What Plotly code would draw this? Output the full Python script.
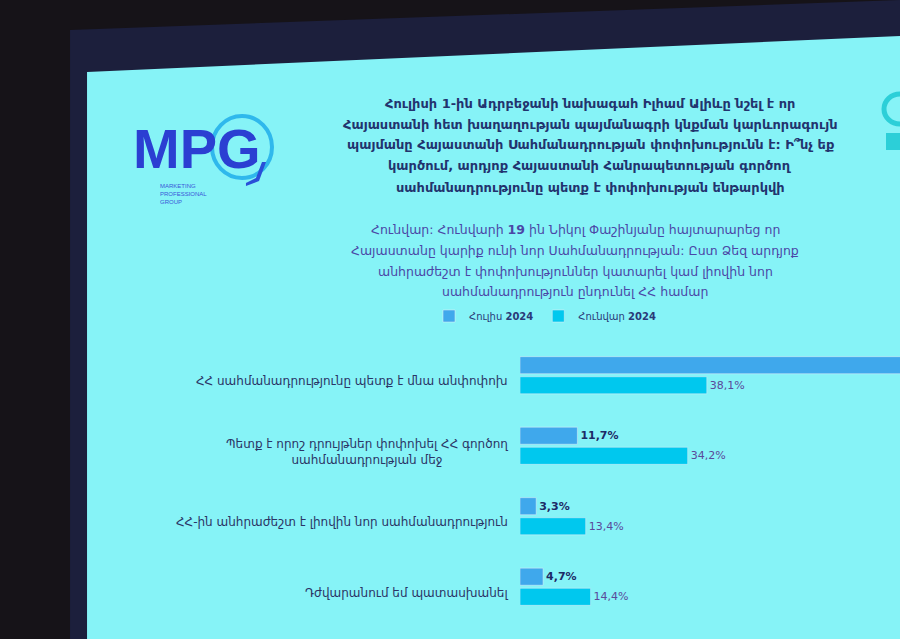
import plotly.graph_objects as go

W, H = 900, 639

categories = [
    "ՀՀ սահմանադրությունը պետք է մնա անփոփոխ",
    "Պետք է որոշ դրույթներ փոփոխել ՀՀ գործող<br>սահմանադրության մեջ",
    "ՀՀ-ին անհրաժեշտ է լիովին նոր սահմանադրություն",
    "Դժվարանում եմ պատասխանել",
]
cat_ids = ["c1", "c2", "c3", "c4"]
july_2024 = [80.3, 11.7, 3.3, 4.7]
january_2024 = [38.1, 34.2, 13.4, 14.4]
series_names = ["Հուլիս <b>2024</b>", "Հունվար <b>2024</b>"]

title_lines = [
    "Հուլիսի 1-ին Ադրբեջանի նախագահ Իլհամ Ալիևը նշել է որ",
    "Հայաստանի հետ խաղաղության պայմանագրի կնքման կարևորագույն",
    "պայմանը Հայաստանի Սահմանադրության փոփոխությունն է: Ի՞նչ եք",
    "կարծում, արդյոք Հայաստանի Հանրապետության գործող",
    "սահմանադրությունը պետք է փոփոխության ենթարկվի",
]
subtitle_lines = [
    "Հունվար: Հունվարի <b>19</b> ին Նիկոլ Փաշինյանը հայտարարեց որ",
    "Հայաստանը կարիք ունի նոր Սահմանադրության: Ըստ Ձեզ արդյոք",
    "անհրաժեշտ է փոփոխություններ կատարել կամ լիովին նոր",
    "սահմանադրություն ընդունել ՀՀ համար",
]

FONT = "DejaVu Sans"
NAVY = "#22336e"
JULY_C = "#3fa8ec"
JAN_C = "#00c8ee"


def px(x):
    return x / W


def py(y):
    return 1 - y / H


def path(points):
    return "M " + " L ".join(f"{px(x):.4f} {py(y):.4f}" for x, y in points) + " Z"


# the first July bar runs off the slide, so its label is not shown
july_templates = [""] + ["<b>%{x:.1f}%</b>"] * (len(july_2024) - 1)

fig = go.Figure()
fig.add_trace(go.Bar(
    y=cat_ids, x=july_2024, orientation="h", name=series_names[0],
    marker=dict(color=JULY_C), texttemplate=july_templates,
    textposition="outside", textfont=dict(family=FONT, size=11, color="#1d2a66"),
    cliponaxis=True,
))
fig.add_trace(go.Bar(
    y=cat_ids, x=january_2024, orientation="h", name=series_names[1],
    marker=dict(color=JAN_C), texttemplate="%{x:.1f}%",
    textposition="outside", textfont=dict(family=FONT, size=11, color="#5a4a9a"),
    cliponaxis=True,
))

shapes = [
    dict(type="path", xref="paper", yref="paper", layer="below",
         path=path([(70, 30), (900, 0), (900, 639), (70, 639)]),
         fillcolor="#1c1f3c", line=dict(width=0)),
    dict(type="path", xref="paper", yref="paper", layer="below",
         path=path([(87, 72), (900, 36), (900, 639), (87, 639)]),
         fillcolor="#86f3f7", line=dict(width=0)),
    dict(type="circle", xref="paper", yref="paper", layer="below",
         x0=px(884), x1=px(916), y0=py(124), y1=py(94),
         line=dict(color="#2ccfd8", width=5)),
    dict(type="rect", xref="paper", yref="paper", layer="below",
         x0=px(886), x1=px(900), y0=py(150), y1=py(133),
         fillcolor="#2ccfd8", line=dict(width=0)),
    dict(type="circle", xref="paper", yref="paper", layer="below",
         x0=px(212), x1=px(272), y0=py(178), y1=py(116),
         line=dict(color="#2fb8ec", width=4)),
    dict(type="path", xref="paper", yref="paper",
         path=path([(266, 162), (259, 181), (246, 186), (246, 183), (256, 178), (262, 162)]),
         fillcolor="#2a4fd8", line=dict(width=0)),
]

annotations = []
annotations.append(dict(xref="paper", yref="paper", x=px(197), y=py(148),
                        text="<b>MPG</b>", showarrow=False,
                        font=dict(family="Liberation Sans", size=56, color="#2b3fd2"),
                        xanchor="center", yanchor="middle"))
annotations.append(dict(xref="paper", yref="paper", x=px(158), y=py(194),
                        text="MARKETING<br>PROFESSIONAL<br>GROUP", showarrow=False,
                        align="left", font=dict(family="Liberation Sans", size=6, color="#3a56d8"),
                        xanchor="left", yanchor="middle"))

for i, line in enumerate(title_lines):
    annotations.append(dict(xref="paper", yref="paper", x=px(590), y=py(103 + i * 21),
                            text=f"<b>{line}</b>", showarrow=False,
                            font=dict(family=FONT, size=13, color=NAVY),
                            xanchor="center", yanchor="middle"))
for i, line in enumerate(subtitle_lines):
    annotations.append(dict(xref="paper", yref="paper", x=px(575), y=py(229 + i * 21),
                            text=line, showarrow=False,
                            font=dict(family=FONT, size=12.5, color="#4b47a6"),
                            xanchor="center", yanchor="middle"))
for cid, label in zip(cat_ids, categories):
    annotations.append(dict(xref="paper", yref="y", x=px(510), y=cid, yshift=-6,
                            text=label, showarrow=False, align="center",
                            font=dict(family=FONT, size=12, color="#2b3566"),
                            xanchor="right", yanchor="middle"))

fig.update_layout(
    width=W, height=H,
    margin=dict(l=0, r=0, t=0, b=0),
    paper_bgcolor="#161318",
    plot_bgcolor="rgba(0,0,0,0)",
    separators=", ",
    barmode="group",
    bargap=0.43,
    bargroupgap=0.15,
    showlegend=True,
    legend=dict(orientation="h", x=px(429), y=py(316), xanchor="left", yanchor="middle",
                font=dict(family=FONT, size=10, color="#2a3a78"),
                bgcolor="rgba(0,0,0,0)", itemwidth=30, tracegroupgap=0),
    xaxis=dict(domain=[px(520), 1], range=[0, 77.5], visible=False, fixedrange=True),
    yaxis=dict(domain=[py(622), py(340)], autorange="reversed",
               showticklabels=False, showgrid=False, zeroline=False,
               categoryorder="array", categoryarray=cat_ids),
    shapes=shapes,
    annotations=annotations,
)

fig.write_html("out.html", config={"displayModeBar": False},
               post_script="document.body.style.margin='0';")
